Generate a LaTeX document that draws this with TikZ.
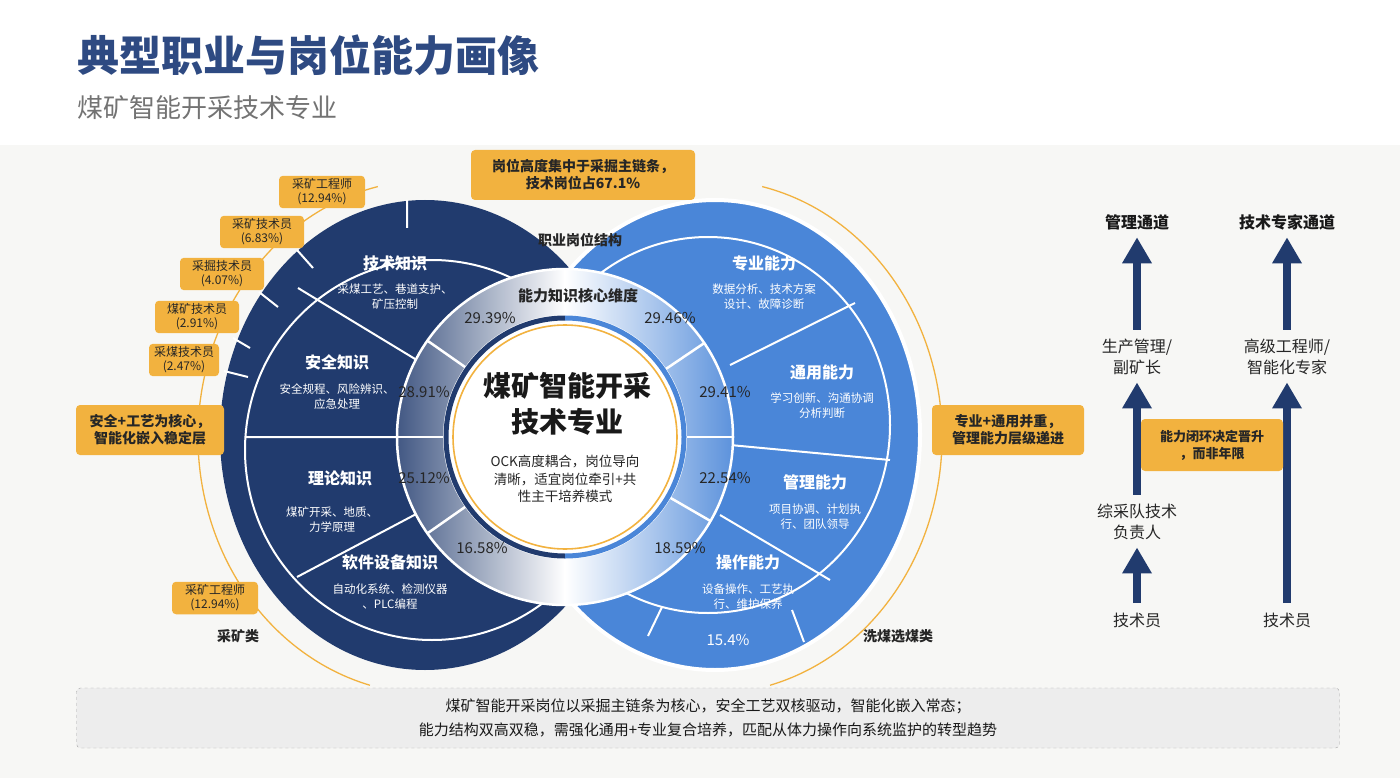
\documentclass[tikz,border=0pt]{standalone}
\usepackage{fontspec}
\setmainfont{Noto Sans CJK SC}
\usetikzlibrary{arrows.meta,shapes.geometric}
\definecolor{navy}{HTML}{213B6E}
\definecolor{lblue}{HTML}{4A86D8}
\definecolor{org}{HTML}{F2B23F}
\definecolor{ttl}{HTML}{2E4A82}
\definecolor{bg}{HTML}{F7F7F5}
\begin{document}
\begin{tikzpicture}[x=1pt,y=-1pt,
  obox/.style={fill=org,rounded corners=4pt,align=center,font=\fontsize{12}{14}\selectfont,text=black!85,inner sep=3pt},
  bbox/.style={obox,font=\bfseries\fontsize{14}{17}\selectfont},
  head/.style={text=white,font=\bfseries\fontsize{16}{18}\selectfont},
  sub/.style={text=white,align=center,font=\fontsize{11.5}{15}\selectfont},
  pct/.style={text=black!85,font=\fontsize{15}{17}\selectfont},
  wl/.style={white,line width=2pt},
  path/.style={text=black!85,align=center,font=\fontsize{16}{21}\selectfont},
  parr/.style={navy,line width=8pt,-{Triangle[width=28pt,length=26pt]},shorten >=4pt,shorten <=6pt}]
\useasboundingbox (0,0) rectangle (1400,778);
\fill[white] (0,0) rectangle (1400,778);
\fill[bg] (0,145) rectangle (1400,778);
% titles
\node[anchor=west,text=ttl,font=\bfseries\fontsize{42}{46}\selectfont] (title) at (74,55) {典型职业与岗位能力画像};
\node[anchor=west,text=black!55,font=\fontsize{26}{30}\selectfont] (subtitle) at (74,108) {煤矿智能开采技术专业};
% orange arcs
\draw[org,line width=1.3pt] (430,437) ++(-103:232 and 257) arc[start angle=-103,end angle=-255,x radius=232,y radius=257];
\draw[org,line width=1.3pt] (710,437) ++(-77:232 and 257) arc[start angle=-77,end angle=75,x radius=232,y radius=257];
% big shapes
\fill[navy] (425,435) ellipse[x radius=205,y radius=235];
\draw[wl] (432,450) ellipse[x radius=187,y radius=190];
\draw[wl] (407,200)--(407,228) (297,250)--(313,268) (259,292)--(278,307) (233,338)--(250,348) (224,371)--(248,377);
\draw[wl] (245,437)--(420,437) (298,288)--(420,362) (297,577)--(420,512);
\draw[white,line width=4pt,fill=lblue] (715,435) ellipse[x radius=205,y radius=235];
\draw[wl] (708,425) ellipse[x radius=182,y radius=188];
\draw[wl] (648,636)--(662,607) (792,610)--(804,642);
\draw[wl] (855,303)--(730,365) (890,460)--(730,445) (830,580)--(720,515);
% ring
\begin{scope}
\clip (565,437) circle (168);
\shade[left color=navy!85,right color=white] (397,260) rectangle (565,610);
\shade[left color=white,right color=lblue!90] (565,260) rectangle (733,610);
\end{scope}
\draw[wl,line width=2.5pt] (565,437) circle (168);
\foreach \a in {90,145,180,215,270,34,0,-30}
  \draw[white,line width=2.5pt] (565,437) ++(-\a:115) -- ++(-\a:53);
\fill[white] (565,437) circle (122);
\begin{scope}
\clip (397,260) rectangle (565,620);
\draw[navy,line width=5pt] (565,437) circle (119);
\end{scope}
\begin{scope}
\clip (565,260) rectangle (735,620);
\draw[lblue,line width=5pt] (565,437) circle (119);
\end{scope}
\draw[org,line width=1.6pt] (565,437) circle (112);
% ring texts
\node[font=\bfseries\fontsize{15}{17}\selectfont,text=black!85] (core) at (578,296) {能力知识核心维度};
\node[font=\bfseries\fontsize{14}{16}\selectfont,text=black!85] (struct) at (580,240) {职业岗位结构};
\node[pct] (p1) at (490,318) {29.39\%};
\node[pct] (p2) at (670,318) {29.46\%};
\node[pct] (p3) at (424,392) {28.91\%};
\node[pct] (p4) at (725,392) {29.41\%};
\node[pct] (p5) at (424,478) {25.12\%};
\node[pct] (p6) at (725,478) {22.54\%};
\node[pct] (p7) at (482,548) {16.58\%};
\node[pct] (p8) at (680,548) {18.59\%};
% center
\node[align=center,text=black!90,font=\bfseries\fontsize{28}{36}\selectfont] (ctitle) at (567,404) {煤矿智能开采\\技术专业};
\node[align=center,text=black!85,font=\fontsize{13.5}{17.5}\selectfont] (csub) at (565,479) {OCK高度耦合，岗位导向\\清晰，适宜岗位牵引+共\\性主干培养模式};
% left texts
\node[head] (k1) at (395,263) {技术知识};
\node[sub] (k1s) at (395,297) {采煤工艺、巷道支护、\\矿压控制};
\node[head] (k2) at (337,362) {安全知识};
\node[sub] (k2s) at (337,397) {安全规程、风险辨识、\\应急处理};
\node[head] (k3) at (340,478) {理论知识};
\node[sub] (k3s) at (332,520) {煤矿开采、地质、\\力学原理};
\node[head] (k4) at (390,562) {软件设备知识};
\node[sub] (k4s) at (390,597) {自动化系统、检测仪器\\、PLC编程};
% right texts
\node[head] (a1) at (764,263) {专业能力};
\node[sub] (a1s) at (764,297) {数据分析、技术方案\\设计、故障诊断};
\node[head] (a2) at (822,372) {通用能力};
\node[sub] (a2s) at (822,406) {学习创新、沟通协调\\分析判断};
\node[head] (a3) at (815,482) {管理能力};
\node[sub] (a3s) at (815,517) {项目协调、计划执\\行、团队领导};
\node[head] (a4) at (748,562) {操作能力};
\node[sub] (a4s) at (748,597) {设备操作、工艺执\\行、维护保养};
\node[text=white,font=\fontsize{15}{17}\selectfont] (a5) at (728,640) {15.4\%};
% category labels
\node[font=\bfseries\fontsize{14}{16}\selectfont,text=black!85] (c1) at (238,636) {采矿类};
\node[font=\bfseries\fontsize{14}{16}\selectfont,text=black!85] (c2) at (898,636) {洗煤选煤类};
% orange labels
\node[obox,minimum width=86pt] (o1) at (322,192) {采矿工程师\\(12.94\%)};
\node[obox,minimum width=84pt] (o2) at (262,232) {采矿技术员\\(6.83\%)};
\node[obox,minimum width=84pt] (o3) at (222,274) {采掘技术员\\(4.07\%)};
\node[obox,minimum width=84pt] (o4) at (197,317) {煤矿技术员\\(2.91\%)};
\node[obox,minimum width=70pt] (o5) at (184,360) {采煤技术员\\(2.47\%)};
\node[obox,minimum width=86pt] (o6) at (215,598) {采矿工程师\\(12.94\%)};
\node[bbox,minimum width=148pt,minimum height=50pt] (b1) at (150,430) {安全+工艺为核心，\\智能化嵌入稳定层};
\node[bbox,minimum width=224pt,minimum height=50pt] (b2) at (583,175) {岗位高度集中于采掘主链条，\\技术岗位占67.1\%};
\node[bbox,minimum width=152pt,minimum height=50pt] (b3) at (1008,430) {专业+通用并重，\\管理能力层级递进};
% career paths
\node[font=\bfseries\fontsize{16}{18}\selectfont,text=black!90] (m0) at (1137,222) {管理通道};
\node[font=\bfseries\fontsize{16}{18}\selectfont,text=black!90] (t0) at (1287,222) {技术专家通道};
\node[path] (m1) at (1137,357) {生产管理/\\副矿长};
\node[path] (t1) at (1287,357) {高级工程师/\\智能化专家};
\node[path] (m2) at (1137,522) {综采队技术\\负责人};
\node[path] (m3) at (1137,620) {技术员};
\node[path] (t3) at (1287,620) {技术员};
\draw[parr] (m3.north) -- (m2.south);
\draw[parr] (m2.north) -- (m1.south);
\draw[parr] (m1.north) -- (m0.south);
\draw[parr] (t3.north) -- (t1.south);
\draw[parr] (t1.north) -- (t0.south);
\node[bbox,font=\bfseries\fontsize{13}{17}\selectfont,minimum width=142pt,minimum height=52pt] (b4) at (1212,445) {能力闭环决定晋升\\，而非年限};
% bottom summary
\node[draw=black!35,dashed,fill=black!7,rounded corners=4pt,minimum width=1263pt,minimum height=60pt,align=center,text=black!90,font=\fontsize{15}{24}\selectfont] (sum) at (708,718) {煤矿智能开采岗位以采掘主链条为核心，安全工艺双核驱动，智能化嵌入常态；\\能力结构双高双稳，需强化通用+专业复合培养，匹配从体力操作向系统监护的转型趋势};
\end{tikzpicture}
\end{document}
